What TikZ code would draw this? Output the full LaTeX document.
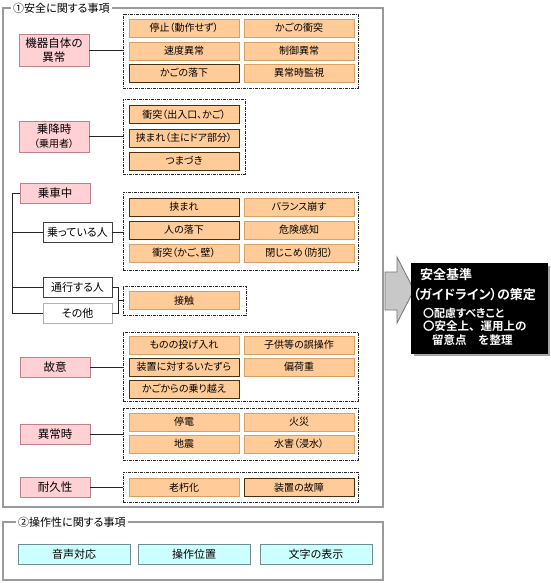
\documentclass[tikz,border=0pt]{standalone}
\usepackage{fontspec}
\setmainfont[RawFeature=+palt]{Noto Sans CJK JP}
\newfontfamily\jpbold[RawFeature=+palt]{Noto Sans CJK JP Bold}
\newfontfamily\jpboldfw{Noto Sans CJK JP Bold}
\definecolor{ofill}{HTML}{FFCC99}
\definecolor{oline}{HTML}{D9A066}
\definecolor{odark}{HTML}{4A2E10}
\definecolor{pfill}{HTML}{FFD0D4}
\definecolor{pline}{HTML}{C08088}
\definecolor{cfill}{HTML}{CCFFFF}
\definecolor{cline}{HTML}{6E8C96}
\definecolor{frame}{HTML}{9A9A9A}
\definecolor{arrfill}{HTML}{C8C8C8}
\tikzset{
  obox/.style={draw=oline, fill=ofill, line width=0.8pt, minimum width=110pt, minimum height=18pt, inner sep=0pt, font=\fontsize{10}{12}\selectfont},
  obd/.style={obox, draw=odark},
  pbox/.style={draw=pline, fill=pfill, line width=0.8pt, minimum width=70pt, minimum height=20pt, inner sep=0pt, align=center, font=\fontsize{11.5}{14}\selectfont},
  wbox/.style={draw=black!75, fill=white, line width=0.8pt, minimum width=69pt, minimum height=20pt, inner sep=0pt, font=\fontsize{11}{13}\selectfont},
  wboxl/.style={wbox, draw=black!30},
  cbox/.style={draw=cline, fill=cfill, line width=0.8pt, minimum width=112pt, minimum height=20pt, inner sep=0pt, font=\fontsize{11}{13}\selectfont},
  grp/.style={draw=black!85, line width=0.8pt, dash pattern=on 3pt off 1pt on 1pt off 1pt},
  conn/.style={draw=black!85, line width=0.8pt},
  framel/.style={draw=frame, line width=1.3pt},
  ftitle/.style={fill=white, inner sep=2pt, anchor=west, font=\fontsize{11}{12}\selectfont},
  wt/.style={text=white, anchor=west, inner sep=0pt}
}
\begin{document}
\begin{tikzpicture}[x=1pt,y=-1pt]
\useasboundingbox (0,0) rectangle (550,583);
% frames
\draw[framel] (3,8) rectangle (383,507);
\node[ftitle] (t1) at (11,8) {①安全に関する事項};
\draw[framel] (3,522) rectangle (383,580);
\node[ftitle] (t2) at (16,522) {②操作性に関する事項};

% groups
\node[grp, minimum width=235pt, minimum height=74pt, inner sep=0pt] (g1) at (240.5,51) {};
\node[grp, minimum width=122pt, minimum height=75pt, inner sep=0pt] (g2) at (184,136.5) {};
\node[grp, minimum width=235pt, minimum height=78pt, inner sep=0pt] (g3) at (240.5,231) {};
\node[grp, minimum width=123pt, minimum height=29pt, inner sep=0pt] (g4) at (184.5,300.5) {};
\node[grp, minimum width=235pt, minimum height=69pt, inner sep=0pt] (g5) at (240.5,366.5) {};
\node[grp, minimum width=235pt, minimum height=52pt, inner sep=0pt] (g6) at (240.5,434) {};
\node[grp, minimum width=235pt, minimum height=30pt, inner sep=0pt] (g7) at (240.5,487) {};

% group 1
\node[obox] (a1) at (184,28) {停止（動作せず）};
\node[obox] (a2) at (299,28) {かごの衝突};
\node[obox] (a3) at (184,51) {速度異常};
\node[obox] (a4) at (299,51) {制御異常};
\node[obd]  (a5) at (184,73) {かごの落下};
\node[obox] (a6) at (299,73) {異常時監視};
% group 2
\node[obd]  (b1) at (184,114.5) {衝突（出入口、かご）};
\node[obd]  (b2) at (184,138) {挟まれ（主にドア部分）};
\node[obd]  (b3) at (184,161) {つまづき};
% group 3
\node[obd]  (c1) at (184,207) {挟まれ};
\node[obox] (c2) at (299,207) {バランス崩す};
\node[obd]  (c3) at (184,230) {人の落下};
\node[obox] (c4) at (299,230) {危険感知};
\node[obox] (c5) at (184,253) {衝突（かご、壁）};
\node[obox] (c6) at (299,253) {閉じこめ（防犯）};
% group 4
\node[obox] (d1) at (184,300.5) {接触};
% group 5
\node[obox] (e1) at (184,345) {ものの投げ入れ};
\node[obox] (e2) at (299,345) {子供等の誤操作};
\node[obd]  (e3) at (184,367) {装置に対するいたずら};
\node[obox] (e4) at (299,367) {偏荷重};
\node[obd]  (e5) at (184,389) {かごからの乗り越え};
% group 6
\node[obox] (f1) at (184,422) {停電};
\node[obox] (f2) at (299,422) {火災};
\node[obox] (f3) at (184,444) {地震};
\node[obox] (f4) at (299,444) {水害（浸水）};
% group 7
\node[obox] (h1) at (184,487.5) {老朽化};
\node[obd]  (h2) at (299,487.5) {装置の故障};

% left categories
\node[pbox, minimum height=32pt] (p1) at (54,50) {機器自体の\\異常};
\node[pbox, minimum height=31pt] (p2) at (54,136.5) {乗降時\\{\fontsize{10}{12}\selectfont（乗用者）}};
\node[pbox] (p3) at (55,193) {乗車中};
\node[wbox] (w1) at (77.5,232) {乗っている人};
\node[wbox] (w2) at (77.5,287) {通行する人};
\node[wboxl] (w3) at (77.5,313.5) {その他};
\node[pbox] (p4) at (55,367) {故意};
\node[pbox] (p5) at (55,434) {異常時};
\node[pbox] (p6) at (55,487) {耐久性};

% connectors
\draw[conn] (p1.east) -- (p1.east -| g1.west);
\draw[conn] (p2.east) -- (p2.east -| g2.west);
\coordinate (tx) at (12,0);
\draw[conn] (p3.west) -- (p3.west -| tx) -- (w3.west -| tx) -- (w3.west);
\draw[conn] (w1.west -| tx) -- (w1.west);
\draw[conn] (w2.west -| tx) -- (w2.west);
\draw[conn] (w1.east) -- (w1.east -| g3.west);
\coordinate (bx) at (118,0);
\draw[conn] (w2.east) -- (w2.east -| bx) -- (w3.east -| bx) -- (w3.east);
\draw[conn] (g4.west -| bx) -- (g4.west);
\draw[conn] (p4.east) -- (p4.east -| g5.west);
\draw[conn] (p5.east) -- (p5.east -| g6.west);
\draw[conn] (p6.east) -- (p6.east -| g7.west);

% operability
\node[cbox] (k1) at (74,554) {音声対応};
\node[cbox] (k2) at (194,554) {操作位置};
\node[cbox] (k3) at (316,554) {文字の表示};

% arrow
\draw[draw=black!55, fill=arrfill, line width=0.8pt] (385,272) -- (397,272) -- (397,257) -- (414,290) -- (397,323) -- (397,310) -- (385,310) -- cycle;

% result box
\fill[black!35] (414,266) rectangle (550,356);
\node[fill=black, draw=black, minimum width=136pt, minimum height=90pt, inner sep=0pt] (res) at (479,308) {};
\node[wt, font=\jpbold\fontsize{13}{14}\selectfont] (r1) at (420,275) {安全基準};
\node[wt, font=\jpbold\fontsize{13}{14}\selectfont] (r2) at (413,295) {（ガイドライン）の策定};
\node[wt, font=\jpbold\fontsize{11}{12}\selectfont] (r3) at (423,313) {〇配慮すべきこと};
\node[wt, font=\jpboldfw\fontsize{11.5}{12}\selectfont] (r4) at (423,326.5) {〇安全上、運用上の};
\node[wt, font=\jpboldfw\fontsize{11.5}{12}\selectfont] (r5) at (432,340) {留意点　を整理};
\end{tikzpicture}
\end{document}
